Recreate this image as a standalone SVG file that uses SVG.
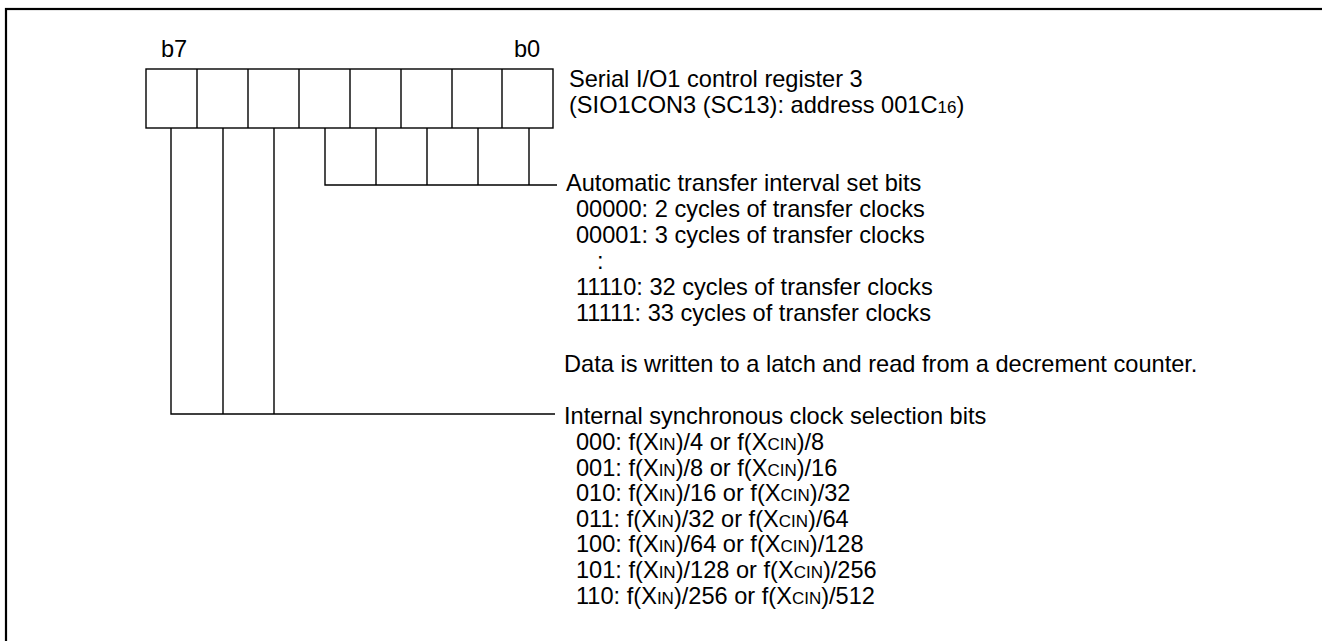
<svg xmlns="http://www.w3.org/2000/svg" width="1322" height="641" viewBox="0 0 1322 641">
<style>
text{font-family:"Liberation Sans",Arial,sans-serif;font-size:23.6px;fill:#000}
.s{font-size:17px}
.ln{stroke:#000;stroke-width:1.4;fill:none}
</style>
<rect x="0" y="0" width="1322" height="641" fill="#fff"/>
<rect x="6" y="9" width="1330" height="660" fill="none" stroke="#000" stroke-width="2.2"/>
<g id="register">
<text x="161" y="57">b7</text>
<text x="514" y="57">b0</text>
<rect class="ln" x="146" y="69" width="407" height="59"/>
<path class="ln" d="M197,69V128M248,69V128M299,69V128M350,69V128M401,69V128M452,69V128M502,69V128"/>
</g>
<g id="connectors">
<path class="ln" d="M325,128V185H557M376,128V185M427,128V185M478,128V185M529,128V185"/>
<path class="ln" d="M171,128V414H555M223,128V414M274,128V414"/>
</g>
<g id="title">
<text x="569" y="87">Serial I/O1 control register 3</text>
<text x="569" y="113">(SIO1CON3 (SC13): address 001C<tspan class="s">16</tspan>)</text>
</g>
<g id="interval">
<text x="566" y="191">Automatic transfer interval set bits</text>
<text x="576" y="217">00000: 2 cycles of transfer clocks</text>
<text x="576" y="243">00001: 3 cycles of transfer clocks</text>
<text x="597" y="269">:</text>
<text x="576" y="295">11110: 32 cycles of transfer clocks</text>
<text x="576" y="321">11111: 33 cycles of transfer clocks</text>
</g>
<g id="note">
<text x="564" y="372">Data is written to a latch and read from a decrement counter.</text>
</g>
<g id="clock">
<text x="564" y="424">Internal synchronous clock selection bits</text>
<text x="576" y="450">000: f(X<tspan class="s">IN</tspan>)/4 or f(X<tspan class="s">CIN</tspan>)/8</text>
<text x="576" y="476">001: f(X<tspan class="s">IN</tspan>)/8 or f(X<tspan class="s">CIN</tspan>)/16</text>
<text x="576" y="501">010: f(X<tspan class="s">IN</tspan>)/16 or f(X<tspan class="s">CIN</tspan>)/32</text>
<text x="576" y="527">011: f(X<tspan class="s">IN</tspan>)/32 or f(X<tspan class="s">CIN</tspan>)/64</text>
<text x="576" y="552">100: f(X<tspan class="s">IN</tspan>)/64 or f(X<tspan class="s">CIN</tspan>)/128</text>
<text x="576" y="578">101: f(X<tspan class="s">IN</tspan>)/128 or f(X<tspan class="s">CIN</tspan>)/256</text>
<text x="576" y="604">110: f(X<tspan class="s">IN</tspan>)/256 or f(X<tspan class="s">CIN</tspan>)/512</text>
</g>
</svg>
